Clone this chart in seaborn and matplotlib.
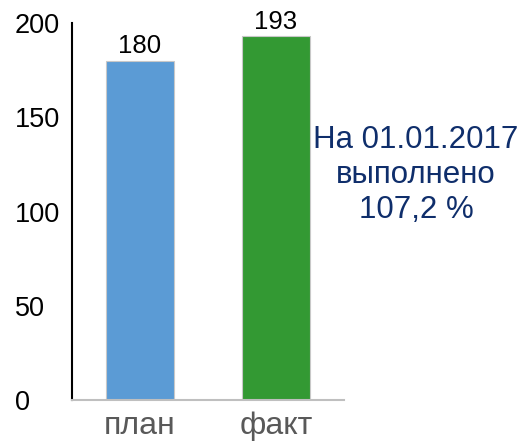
import matplotlib
matplotlib.use("Agg")
import matplotlib.pyplot as plt
import seaborn as sns

# Data
categories = ["план", "факт"]
values = [180, 193]
bar_colors = ["#5B9BD5", "#339933"]
y_ticks = [0, 50, 100, 150, 200]
note_text = "На 01.01.2017\nвыполнено\n107,2 %"

sns.set_style("white")
plt.rcParams["font.family"] = ["Liberation Sans", "DejaVu Sans"]

fig = plt.figure(figsize=(5.24, 4.46), dpi=100)
ax = fig.add_axes([0.1374, 0.1031, 0.5191, 0.8447])

sns.barplot(x=categories, y=values, hue=categories, palette=bar_colors,
            width=0.5, edgecolor="#c8c8c8", linewidth=0.8, legend=False,
            saturation=1, ax=ax)

# value labels on top of bars
for cont in ax.containers:
    ax.bar_label(cont, fontsize=18.5, color="black", padding=2)

ax.set_ylim(0, 200)
ax.set_xlim(-0.5, 1.5)
ax.set_yticks(y_ticks)
ax.set_xlabel("")
ax.set_ylabel("")

# spines: black y-axis, gray baseline
for side in ["top", "right"]:
    ax.spines[side].set_visible(False)
ax.spines["left"].set_color("black")
ax.spines["left"].set_linewidth(1.5)
ax.spines["bottom"].set_color("#bfbfbf")
ax.spines["bottom"].set_linewidth(1.5)

ax.tick_params(axis="y", length=0, pad=41, labelsize=19.5, labelcolor="black")
for lbl in ax.get_yticklabels():
    lbl.set_horizontalalignment("left")
ax.tick_params(axis="x", length=0, pad=8, labelsize=23, labelcolor="#595959")

# annotation on the right
fig.text(416 / 524, 1 - 175 / 446, note_text, ha="center", va="center",
         fontsize=22.5, color="#0f2e6b", linespacing=1.22)

fig.savefig("out.png", dpi=100)
